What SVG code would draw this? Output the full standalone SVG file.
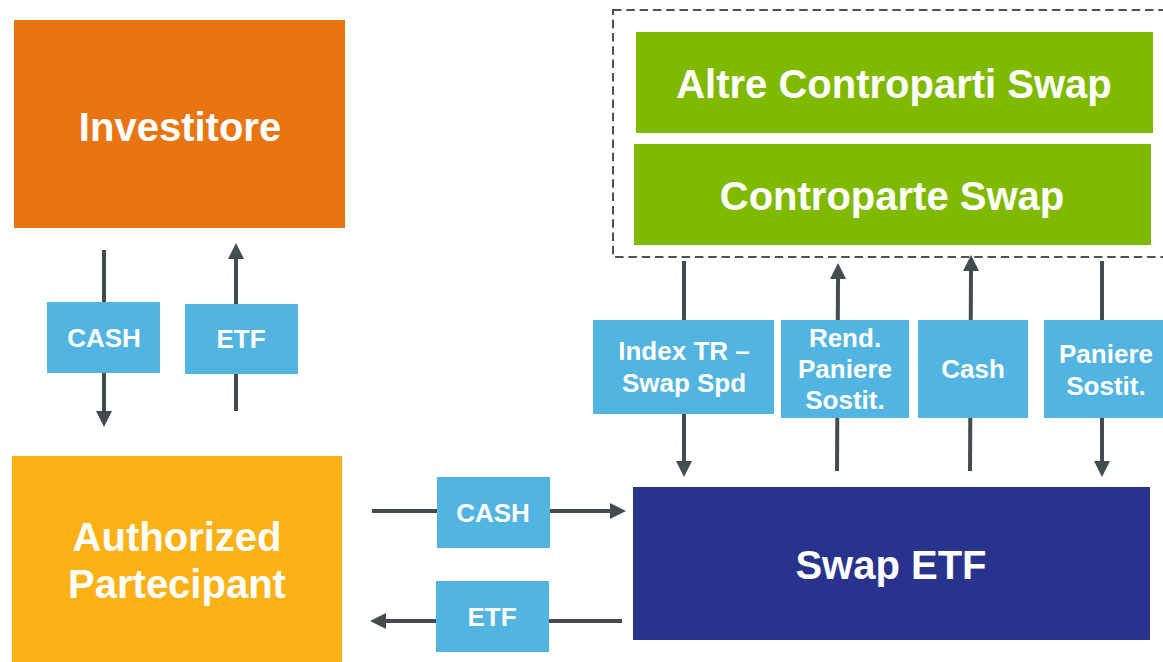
<svg xmlns="http://www.w3.org/2000/svg" width="1163" height="662" viewBox="0 0 1163 662">
  <style>
    .big { font-family: "Liberation Sans", Arial, sans-serif; font-weight: bold; font-size: 40px; fill: #ffffff; text-anchor: middle; }
    .lbl { font-family: "Liberation Sans", Arial, sans-serif; font-weight: bold; font-size: 26px; fill: #ffffff; text-anchor: middle; }
    .flow { stroke: #434d50; stroke-width: 4; fill: none; marker-end: url(#head); }
    .tag { fill: #52b4e0; }
    .green { fill: #80ba00; }
  </style>
  <defs>
    <marker id="head" markerUnits="userSpaceOnUse" markerWidth="17" markerHeight="17" viewBox="0 0 17 17" refX="0" refY="8.5" orient="auto">
      <path d="M0,0.5 L16,8.5 L0,16.5 z" fill="#434d50"/>
    </marker>
  </defs>

  <rect x="0" y="0" width="1163" height="662" fill="#ffffff"/>

  <!-- counterparties frame -->
  <rect id="swap-frame" x="613" y="10" width="600" height="247" fill="none" stroke="#4b5356" stroke-width="2" stroke-dasharray="8.5,4.8"/>

  <!-- flows -->
  <g id="connectors">
    <line class="flow" x1="104" y1="250" x2="104" y2="411"/>
    <line class="flow" x1="236" y1="411" x2="236" y2="259"/>
    <line class="flow" x1="372" y1="511" x2="610" y2="511"/>
    <line class="flow" x1="622" y1="621" x2="386" y2="621"/>
    <line class="flow" x1="684" y1="261" x2="684" y2="461"/>
    <line class="flow" x1="837" y1="471" x2="838" y2="279"/>
    <line class="flow" x1="970" y1="471" x2="971" y2="271"/>
    <line class="flow" x1="1102" y1="261" x2="1102" y2="461"/>
  </g>

  <g id="investitore">
    <rect x="14" y="20" width="331" height="208" fill="#e87512"/>
    <text class="big" x="180" y="141">Investitore</text>
  </g>

  <g id="authorized-partecipant">
    <rect x="12" y="456" width="330" height="206" fill="#fcb116"/>
    <text class="big" x="177" y="551">Authorized</text>
    <text class="big" x="177" y="598">Partecipant</text>
  </g>

  <g id="swap-etf">
    <rect x="633" y="487" width="517" height="153" fill="#27338c"/>
    <text class="big" x="891" y="579">Swap ETF</text>
  </g>

  <g id="altre-controparti">
    <rect class="green" x="636" y="32" width="517" height="101"/>
    <text class="big" x="894" y="98">Altre Controparti Swap</text>
  </g>

  <g id="controparte-swap">
    <rect class="green" x="634" y="144" width="517" height="101"/>
    <text class="big" x="892" y="210">Controparte Swap</text>
  </g>

  <!-- flow labels -->
  <g id="tag-cash-in">
    <rect class="tag" x="47" y="302" width="113" height="71"/>
    <text class="lbl" x="104" y="347">CASH</text>
  </g>
  <g id="tag-etf-out">
    <rect class="tag" x="185" y="304" width="113" height="70"/>
    <text class="lbl" x="241" y="348">ETF</text>
  </g>
  <g id="tag-cash-ap">
    <rect class="tag" x="437" y="477" width="113" height="71"/>
    <text class="lbl" x="493" y="522">CASH</text>
  </g>
  <g id="tag-etf-ap">
    <rect class="tag" x="436" y="581" width="113" height="71"/>
    <text class="lbl" x="492" y="626">ETF</text>
  </g>
  <g id="tag-index">
    <rect class="tag" x="593" y="320" width="181" height="94"/>
    <text class="lbl" x="684" y="360">Index TR –</text>
    <text class="lbl" x="684" y="392">Swap Spd</text>
  </g>
  <g id="tag-rend">
    <rect class="tag" x="781" y="320" width="128" height="98"/>
    <text class="lbl" x="845" y="347">Rend.</text>
    <text class="lbl" x="845" y="378">Paniere</text>
    <text class="lbl" x="845" y="409">Sostit.</text>
  </g>
  <g id="tag-cash-swap">
    <rect class="tag" x="918" y="320" width="110" height="98"/>
    <text class="lbl" x="973" y="378">Cash</text>
  </g>
  <g id="tag-paniere">
    <rect class="tag" x="1044" y="320" width="124" height="98"/>
    <text class="lbl" x="1106" y="363">Paniere</text>
    <text class="lbl" x="1106" y="395">Sostit.</text>
  </g>
</svg>
